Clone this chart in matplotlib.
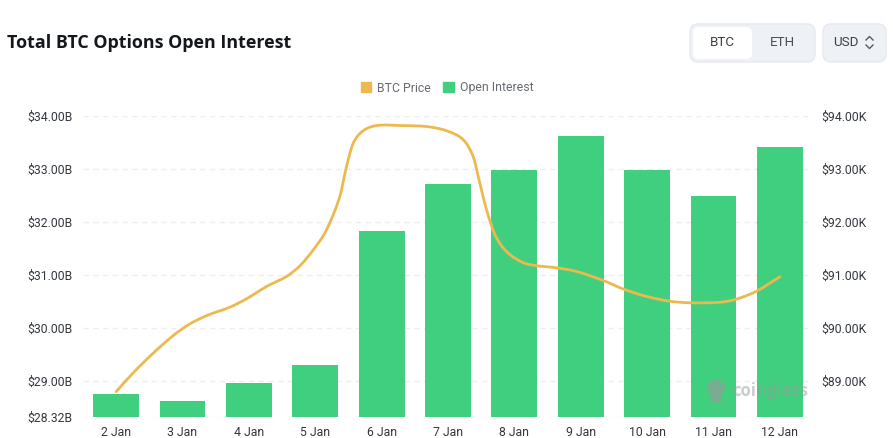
import matplotlib
matplotlib.use('Agg')
import matplotlib.pyplot as plt
from matplotlib.patches import FancyBboxPatch, Patch, Ellipse, PathPatch
from matplotlib.path import Path

plt.rcParams['font.family'] = ['Roboto', 'DejaVu Sans']

days = ['2 Jan', '3 Jan', '4 Jan', '5 Jan', '6 Jan', '7 Jan', '8 Jan', '9 Jan', '10 Jan', '11 Jan', '12 Jan']
open_interest = [28.745, 28.62, 28.96, 29.30, 31.83, 32.72, 32.97, 33.63, 32.98, 32.49, 33.41]

# price curve, x in days since 2 Jan, y in $K
price_day = [0.00, 0.26, 0.56, 0.86, 1.11, 1.37, 1.72, 1.97, 2.27, 2.57, 2.77, 2.97, 3.17, 3.37,
             3.47, 3.57, 3.72, 3.93, 4.28, 4.68, 4.98, 5.23, 5.38, 5.48, 5.58, 5.71, 5.88, 6.13,
             6.34, 6.64, 6.94, 7.34, 7.64, 7.99, 8.34, 8.64, 9.10, 9.35, 9.65, 10.00]
price = [88.79, 89.15, 89.52, 89.85, 90.07, 90.23, 90.39, 90.55, 90.78, 90.97, 91.17, 91.47, 91.85, 92.48,
         93.04, 93.48, 93.72, 93.82, 93.82, 93.80, 93.72, 93.55, 93.23, 92.73, 92.23, 91.75, 91.44, 91.23,
         91.17, 91.13, 91.06, 90.89, 90.73, 90.59, 90.50, 90.47, 90.48, 90.54, 90.69, 90.96]

left_ticks = [28.32, 29, 30, 31, 32, 33, 34]
left_labels = ['$28.32B', '$29.00B', '$30.00B', '$31.00B', '$32.00B', '$33.00B', '$34.00B']
right_ticks = [89, 90, 91, 92, 93, 94]
right_labels = ['$89.00K', '$90.00K', '$91.00K', '$92.00K', '$93.00K', '$94.00K']

W, H = 893, 438
green = '#40CF7F'
gold = '#EDB94F'
text_col = '#33383f'


def smooth_path(xs, ys):
    # bezier through the read points, same kind of smoothing the original line has
    slopes = []
    for i in range(len(xs)):
        a, b = max(i - 1, 0), min(i + 1, len(xs) - 1)
        slopes.append((ys[b] - ys[a]) / (xs[b] - xs[a]))
    verts = [(xs[0], ys[0])]
    codes = [Path.MOVETO]
    for i in range(len(xs) - 1):
        d = (xs[i + 1] - xs[i]) / 3
        verts += [(xs[i] + d, ys[i] + slopes[i] * d),
                  (xs[i + 1] - d, ys[i + 1] - slopes[i + 1] * d),
                  (xs[i + 1], ys[i + 1])]
        codes += [Path.CURVE4] * 3
    return Path(verts, codes)


fig = plt.figure(figsize=(W / 100, H / 100), dpi=100)
ax = fig.add_axes([83 / W, 1 - 416.5 / H, 730 / W, 300.5 / H])

ax.bar(range(len(days)), open_interest, width=0.69, color=green, zorder=2)
ax.set_xlim(-0.5, 10.5)
ax.set_ylim(28.32, 34)
ax.set_yticks(left_ticks, left_labels)
ax.set_xticks(range(len(days)), days)
ax.grid(axis='y', color='#eeeeee', linestyle=(0, (4, 3)), linewidth=1, zorder=0)
ax.set_axisbelow(True)
ax.tick_params(length=0, labelsize=8.8, labelcolor=text_col)
ax.tick_params(axis='y', pad=7.5)
ax.tick_params(axis='x', pad=7)
for s in ax.spines.values():
    s.set_visible(False)

ax2 = ax.twinx()
ax2.add_patch(PathPatch(smooth_path(price_day, price), facecolor='none', edgecolor=gold,
                        linewidth=2, capstyle='round', zorder=3))
ax2.set_ylim(88.32, 94)
ax2.set_yticks(right_ticks, right_labels)
ax2.tick_params(length=0, labelsize=8.8, labelcolor=text_col, pad=6)
for s in ax2.spines.values():
    s.set_visible(False)

handles = [Patch(color=gold, label='BTC Price'), Patch(color=green, label='Open Interest')]
fig.legend(handles=handles, ncol=2, loc='center', bbox_to_anchor=(447 / W, 1 - 88 / H), frameon=False,
           fontsize=8.8, labelcolor='#666b72', handlelength=0.85, handleheight=0.85,
           handletextpad=0.5, columnspacing=1.0)

# page furniture in pixel coordinates
ui = fig.add_axes([0, 0, 1, 1], facecolor='none')
ui.set_xlim(0, W)
ui.set_ylim(H, 0)
ui.axis('off')

ui.text(7, 43.5, 'Total BTC Options Open Interest', fontsize=12.9, fontweight='bold',
        family=['Open Sans', 'DejaVu Sans'], color='#14171c', va='center', ha='left')


def box(x0, y0, x1, y1, face, edge='none', r=8):
    ui.add_patch(FancyBboxPatch((x0 + r, y0 + r), x1 - x0 - 2 * r, y1 - y0 - 2 * r,
                                boxstyle=f'round,pad={r},rounding_size={r}',
                                facecolor=face, edgecolor=edge, linewidth=1))


box(690, 24, 815, 62, '#eef1f5', '#e6e9ed')
box(693, 27, 752, 59, '#ffffff', r=6)
box(823, 24, 886, 62, '#eef1f5', '#e6e9ed')
ui.text(722.5, 42, 'BTC', fontsize=9.6, color='#3a4048', ha='center', va='center')
ui.text(782, 42, 'ETH', fontsize=9.6, color='#4a4f55', ha='center', va='center')
ui.text(846, 42, 'USD', fontsize=9.6, color='#3a4048', ha='center', va='center')
ui.plot([866, 869.5, 873], [40, 36.5, 40], color='#555b63', linewidth=1)
ui.plot([866, 869.5, 873], [45, 48.5, 45], color='#555b63', linewidth=1)

# watermark
ui.text(770.5, 391, 'coinglass', fontsize=12, fontweight='bold', color='#9a9a9a', alpha=0.5,
        ha='center', va='center', family=['Open Sans', 'DejaVu Sans'])
ui.add_patch(Ellipse((716, 388), 18, 17, color='#9a9a9a', alpha=0.6, linewidth=0))
ui.add_patch(Ellipse((716, 398), 11, 11, color='#9a9a9a', alpha=0.6, linewidth=0))

fig.savefig('out.png', dpi=100)
